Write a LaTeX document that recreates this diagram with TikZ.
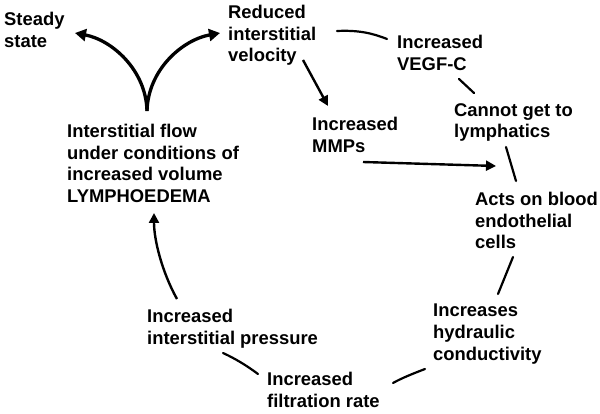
\documentclass[tikz,border=0pt]{standalone}
\usepackage{fontspec}
\setmainfont{Liberation Sans}
\usetikzlibrary{arrows.meta}
\begin{document}
\begin{tikzpicture}[x=1pt,y=-1pt,
  lbl/.style={anchor=north west,align=left,inner sep=0pt,font=\bfseries\fontsize{18.4}{21.7}\selectfont},
  conn/.style={line width=2.2pt,line cap=round},
  thickarr/.style={line width=3.3pt,-{Triangle[length=11pt,width=12pt]}},
  arr/.style={line width=2.4pt,-{Triangle[length=10pt,width=10pt]}}]
\useasboundingbox (0,0) rectangle (600,414);
\fill[white] (0,0) rectangle (600,414);
% nodes (top = baseline - 13)
\node[lbl] (steady) at (4,12) {Steady\\state};
\node[lbl] (reduced) at (228,5) {Reduced\\interstitial\\velocity};
\node[lbl] (vegf) at (397,35) {Increased\\VEGF-C};
\node[lbl] (cannot) at (454,103) {Cannot get to\\lymphatics};
\node[lbl] (mmps) at (312,117) {Increased\\MMPs};
\node[lbl] (acts) at (475,192) {Acts on blood\\endothelial\\cells};
\node[lbl] (flow) at (67,124) {Interstitial flow\\under conditions of\\increased volume\\LYMPHOEDEMA};
\node[lbl] (hydr) at (433,304) {Increases\\hydraulic\\conductivity};
\node[lbl] (press) at (147,309) {Increased\\interstitial pressure};
\node[lbl] (filt) at (267,372) {Increased\\filtration rate};
% connector end points
\coordinate (vbase) at (147,111);
\coordinate (steadyend) at (75,33);
\coordinate (reducedend) at (220,33);
\coordinate (redA) at (337,31);
\coordinate (vegfA) at (387,39);
\coordinate (redB) at (303,60);
\coordinate (mmpsA) at (328,106);
\coordinate (vegfB) at (459,79);
\coordinate (cannotA) at (474,93);
\coordinate (mmpsB) at (363,162);
\coordinate (actsA) at (496,166);
\coordinate (cannotB) at (506,147);
\coordinate (actsB) at (516,181);
\coordinate (actsC) at (513,257);
\coordinate (hydrA) at (498,294);
\coordinate (hydrB) at (425,369);
\coordinate (filtA) at (393,383);
\coordinate (filtB) at (258,374);
\coordinate (pressA) at (223,353);
\coordinate (pressB) at (177,299);
\coordinate (flowA) at (154,213);
% connectors
\draw[thickarr] (vbase) .. controls (146,70) and (112,40) .. (steadyend);
\draw[thickarr] (vbase) .. controls (148,70) and (182,40) .. (reducedend);
\draw[conn] (redA) .. controls (358,30) and (372,33) .. (vegfA);
\draw[arr] (redB) -- (mmpsA);
\draw[conn] (vegfB) -- (cannotA);
\draw[arr] (mmpsB) -- (actsA);
\draw[conn] (cannotB) -- (actsB);
\draw[conn] (actsC) -- (hydrA);
\draw[conn] (hydrB) .. controls (412,374) and (402,378) .. (filtA);
\draw[conn] (filtB) .. controls (246,365) and (234,358) .. (pressA);
\draw[arr] (pressB) .. controls (162,272) and (154,240) .. (flowA);
\end{tikzpicture}
\end{document}
